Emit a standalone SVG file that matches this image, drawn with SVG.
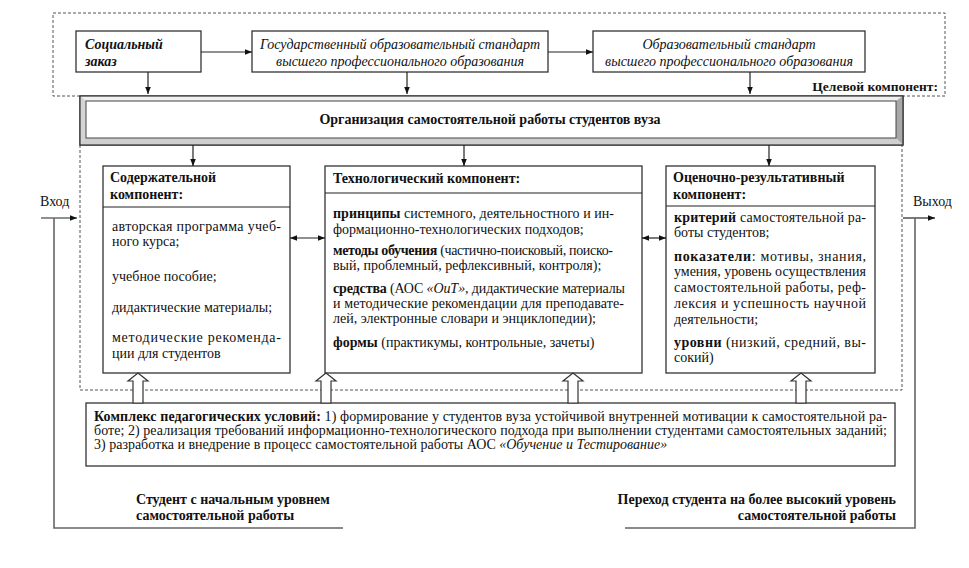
<svg xmlns="http://www.w3.org/2000/svg" width="969" height="568" viewBox="0 0 969 568" font-family="'Liberation Serif', 'DejaVu Serif', serif">
<defs>
<style>
text, tspan { font-family: 'Liberation Serif', 'DejaVu Serif', serif; fill: #111; }
.t { font-size: 14px; }
.h { font-size: 14px; font-weight: bold; }
.i { font-size: 14px; font-style: italic; }
.b { font-weight: bold; }
.it { font-style: italic; }
.box { fill: #fff; stroke: #333; stroke-width: 1.3; }
.ln { fill: none; stroke: #222; stroke-width: 1.2; }
.dash { fill: none; stroke: #555; stroke-width: 1; stroke-dasharray: 3,2; }
.gray { fill: none; stroke: #666; stroke-width: 1.6; }
.blk { fill: #fff; stroke: #333; stroke-width: 1.2; }
</style>
<marker id="ah" viewBox="0 0 10 10" refX="10" refY="5" markerWidth="7" markerHeight="7" orient="auto-start-reverse" markerUnits="userSpaceOnUse">
<path d="M0,1 L10,5 L0,9 z" fill="#111"/>
</marker>
</defs>
<rect width="969" height="568" fill="#fff"/>

<g id="frame">
<polyline class="dash" points="80,96 53,96 53,13 945,13 945,96 903,96"/>
<polyline class="dash" points="80,145 80,390 902,390 902,145"/>
</g>

<g id="social">
<rect class="box" x="76" y="31" width="125" height="41"/>
<text class="i b" x="85" y="49">Социальный</text>
<text class="i b" x="85" y="66">заказ</text>
</g>
<g id="gos">
<rect class="box" x="252" y="31" width="296" height="41"/>
<text class="i" x="400" y="49" text-anchor="middle">Государственный образовательный стандарт</text>
<text class="i" x="400" y="66" text-anchor="middle">высшего профессионального образования</text>
</g>
<g id="obr">
<rect class="box" x="593" y="31" width="272" height="41"/>
<text class="i" x="729" y="49" text-anchor="middle">Образовательный стандарт</text>
<text class="i" x="729" y="66" text-anchor="middle">высшего профессионального образования</text>
</g>
<g id="target-label">
<text class="h" x="938" y="91" text-anchor="end" style="font-size:13.5px">Целевой компонент:</text>
</g>

<g id="banner">
<rect x="80" y="96" width="823" height="49" fill="#d8d8d8" stroke="#333" stroke-width="1.2"/>
<polygon points="80,96 903,96 896,101 86,101" fill="#f0f0f0"/>
<polygon points="80,96 86,101 86,138 80,145" fill="#d4d4d4"/>
<polygon points="903,96 896,101 896,138 903,145" fill="#a8a8a8"/>
<polygon points="80,145 86,138 896,138 903,145" fill="#cfcfcf"/>
<rect x="86" y="101" width="810" height="37" fill="#fff" stroke="#444" stroke-width="1"/>
<rect x="80" y="96" width="823" height="49" fill="none" stroke="#333" stroke-width="1.2"/>
<text class="t b" x="490" y="124" text-anchor="middle">Организация самостоятельной работы студентов вуза</text>
</g>

<g id="content">
<rect class="box" x="103" y="166" width="187" height="207"/>
<line class="ln" x1="103" y1="207" x2="290" y2="207"/>
<text class="h" x="110" y="182">Содержательной</text>
<text class="h" x="110" y="199">компонент:</text>
<text class="t" x="112" y="231" textLength="169" lengthAdjust="spacing">авторская программа учеб-</text>
<text class="t" x="112" y="246">ного курса;</text>
<text class="t" x="112" y="281">учебное пособие;</text>
<text class="t" x="112" y="312">дидактические материалы;</text>
<text class="t" x="112" y="342" textLength="169" lengthAdjust="spacing">методические рекоменда-</text>
<text class="t" x="112" y="358">ции для студентов</text>
</g>

<g id="tech">
<rect class="box" x="325" y="166" width="317" height="207"/>
<line class="ln" x1="325" y1="193" x2="642" y2="193"/>
<text class="h" x="333" y="183">Технологический компонент:</text>
<text class="t" x="333" y="218" textLength="281" lengthAdjust="spacing"><tspan class="b">принципы</tspan> системного, деятельностного и ин-</text>
<text class="t" x="333" y="234">формационно-технологических подходов;</text>
<text class="t" x="333" y="255" textLength="280" lengthAdjust="spacing"><tspan class="b">методы обучения</tspan> (частично-поисковый, поиско-</text>
<text class="t" x="333" y="270">вый, проблемный, рефлексивный, контроля);</text>
<text class="t" x="333" y="293" textLength="292" lengthAdjust="spacing"><tspan class="b">средства</tspan> (АОС <tspan class="it">«ОиТ»</tspan>, дидактические материалы</text>
<text class="t" x="333" y="308" textLength="291" lengthAdjust="spacing">и методические рекомендации для преподавате-</text>
<text class="t" x="333" y="323">лей, электронные словари и энциклопедии);</text>
<text class="t" x="333" y="347"><tspan class="b">формы</tspan> (практикумы, контрольные, зачеты)</text>
</g>

<g id="eval">
<rect class="box" x="666" y="166" width="209" height="207"/>
<line class="ln" x1="666" y1="206" x2="875" y2="206"/>
<text class="h" x="673" y="182">Оценочно-результативный</text>
<text class="h" x="673" y="199">компонент:</text>
<text class="t" x="674" y="222" textLength="192" lengthAdjust="spacing"><tspan class="b">критерий</tspan> самостоятельной ра-</text>
<text class="t" x="674" y="237">боты студентов;</text>
<text class="t" x="674" y="261" textLength="192" lengthAdjust="spacing"><tspan class="b">показатели</tspan>: мотивы, знания,</text>
<text class="t" x="674" y="276" textLength="192" lengthAdjust="spacing">умения, уровень осуществления</text>
<text class="t" x="674" y="292" textLength="192" lengthAdjust="spacing">самостоятельной работы, реф-</text>
<text class="t" x="674" y="308" textLength="192" lengthAdjust="spacing">лексия и успешность научной</text>
<text class="t" x="674" y="324">деятельности;</text>
<text class="t" x="674" y="347" textLength="192" lengthAdjust="spacing"><tspan class="b">уровни</tspan> (низкий, средний, вы-</text>
<text class="t" x="674" y="362">сокий)</text>
</g>

<g id="conditions">
<rect class="box" x="86" y="403" width="809" height="63"/>
<text class="t" x="94" y="421" textLength="793" lengthAdjust="spacing"><tspan class="b">Комплекс педагогических условий:</tspan> 1) формирование у студентов вуза устойчивой внутренней мотивации к самостоятельной ра-</text>
<text class="t" x="94" y="435" textLength="793" lengthAdjust="spacing">боте; 2) реализация требований информационно-технологического подхода при выполнении студентами самостоятельных заданий;</text>
<text class="t" x="94" y="449">3) разработка и внедрение в процесс самостоятельной работы АОС <tspan class="it">«Обучение и Тестирование»</tspan></text>
</g>

<g id="input">
<text class="t" x="40" y="206">Вход</text>
</g>
<g id="output">
<text class="t" x="913" y="206">Выход</text>
</g>
<g id="start-label">
<text class="h" x="136" y="504">Студент с начальным уровнем</text>
<text class="h" x="136" y="520">самостоятельной работы</text>
</g>
<g id="end-label">
<text class="h" x="896" y="504" text-anchor="end">Переход студента на более высокий уровень</text>
<text class="h" x="896" y="520" text-anchor="end">самостоятельной работы</text>
</g>

<g id="connectors">
<line class="ln" x1="201" y1="52" x2="252" y2="52" marker-end="url(#ah)"/>
<line class="ln" x1="548" y1="52" x2="593" y2="52" marker-end="url(#ah)"/>
<line class="ln" x1="148" y1="72" x2="148" y2="94" marker-end="url(#ah)"/>
<line class="ln" x1="407" y1="72" x2="407" y2="94" marker-end="url(#ah)"/>
<line class="ln" x1="750" y1="72" x2="750" y2="94" marker-end="url(#ah)"/>
<line class="ln" x1="193" y1="145" x2="193" y2="166" marker-end="url(#ah)"/>
<line class="ln" x1="464" y1="145" x2="464" y2="166" marker-end="url(#ah)"/>
<line class="ln" x1="769" y1="145" x2="769" y2="166" marker-end="url(#ah)"/>
<line class="ln" x1="290" y1="238" x2="325" y2="238" marker-start="url(#ah)" marker-end="url(#ah)"/>
<line class="ln" x1="642" y1="238" x2="666" y2="238" marker-start="url(#ah)" marker-end="url(#ah)"/>
<line class="ln" x1="41" y1="218" x2="77" y2="218" marker-end="url(#ah)"/>
<polyline class="gray" points="54,218 54,528 343,528"/>
<line class="ln" x1="903" y1="218" x2="935" y2="218" marker-end="url(#ah)"/>
<polyline class="gray" points="915,218 915,528 625,528"/>
<polygon class="blk" points="133,403 133,381 128,381 138,373 148,381 143,381 143,403"/>
<polygon class="blk" points="321,403 321,381 316,381 326,373 336,381 331,381 331,403"/>
<polygon class="blk" points="568,403 568,381 563,381 573,373 583,381 578,381 578,403"/>
<polygon class="blk" points="796,403 796,381 791,381 801,373 811,381 806,381 806,403"/>
</g>
</svg>
